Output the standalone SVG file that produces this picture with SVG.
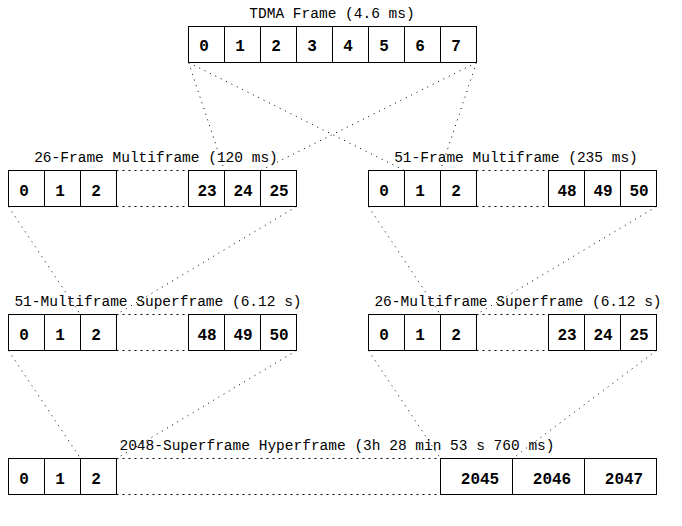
<svg xmlns="http://www.w3.org/2000/svg" width="682" height="526" viewBox="0 0 682 526">
<style>
.bg{fill:#fff}
.cell{fill:#fff;stroke:#000;stroke-width:1}
.gap{stroke:#000;stroke-width:1;stroke-dasharray:2 4;fill:none}
.con{stroke:#000;stroke-width:1;stroke-dasharray:1 5;fill:none}
.title{font-family:"Liberation Mono","Courier New",monospace;font-size:14.5px;fill:#000;text-anchor:middle}
.num{font-family:"Liberation Mono","Courier New",monospace;font-size:16px;font-weight:bold;fill:#000;text-anchor:middle}
</style>
<rect class="bg" x="0" y="0" width="682" height="526"/>

<g id="connectors">
  <line class="con" x1="188.5" y1="62.5" x2="224.5" y2="170.5"/>
  <line class="con" x1="476.5" y1="62.5" x2="260.5" y2="170.5"/>
  <line class="con" x1="188.5" y1="62.5" x2="404.5" y2="170.5"/>
  <line class="con" x1="476.5" y1="62.5" x2="440.5" y2="170.5"/>

  <line class="con" x1="8.5" y1="206.5" x2="80.5" y2="314.5"/>
  <line class="con" x1="296.5" y1="206.5" x2="116.5" y2="314.5"/>
  <line class="con" x1="368.5" y1="206.5" x2="440.5" y2="314.5"/>
  <line class="con" x1="656.5" y1="206.5" x2="476.5" y2="314.5"/>

  <line class="con" x1="8.5" y1="350.5" x2="80.5" y2="458.5"/>
  <line class="con" x1="296.5" y1="350.5" x2="116.5" y2="458.5"/>
  <line class="con" x1="368.5" y1="350.5" x2="440.5" y2="458.5"/>
  <line class="con" x1="656.5" y1="350.5" x2="512.5" y2="458.5"/>
</g>

<g id="tdma-frame">
  <text class="title" x="332" y="18">TDMA Frame (4.6 ms)</text>
  <rect class="cell" x="188.5" y="26.5" width="36" height="36"/>
  <rect class="cell" x="224.5" y="26.5" width="36" height="36"/>
  <rect class="cell" x="260.5" y="26.5" width="36" height="36"/>
  <rect class="cell" x="296.5" y="26.5" width="36" height="36"/>
  <rect class="cell" x="332.5" y="26.5" width="36" height="36"/>
  <rect class="cell" x="368.5" y="26.5" width="36" height="36"/>
  <rect class="cell" x="404.5" y="26.5" width="36" height="36"/>
  <rect class="cell" x="440.5" y="26.5" width="36" height="36"/>
  <text class="num" x="204" y="51">0</text>
  <text class="num" x="240" y="51">1</text>
  <text class="num" x="276" y="51">2</text>
  <text class="num" x="312" y="51">3</text>
  <text class="num" x="348" y="51">4</text>
  <text class="num" x="384" y="51">5</text>
  <text class="num" x="420" y="51">6</text>
  <text class="num" x="456" y="51">7</text>
</g>

<g id="multiframe-26">
  <text class="title" x="156" y="162">26-Frame Multiframe (120 ms)</text>
  <rect class="cell" x="8.5" y="170.5" width="36" height="36"/>
  <rect class="cell" x="44.5" y="170.5" width="36" height="36"/>
  <rect class="cell" x="80.5" y="170.5" width="36" height="36"/>
  <line class="gap" x1="116.5" y1="170.5" x2="188.5" y2="170.5"/>
  <line class="gap" x1="116.5" y1="206.5" x2="188.5" y2="206.5"/>
  <rect class="cell" x="188.5" y="170.5" width="36" height="36"/>
  <rect class="cell" x="224.5" y="170.5" width="36" height="36"/>
  <rect class="cell" x="260.5" y="170.5" width="36" height="36"/>
  <text class="num" x="24" y="196">0</text>
  <text class="num" x="60" y="196">1</text>
  <text class="num" x="96" y="196">2</text>
  <text class="num" x="207" y="196">23</text>
  <text class="num" x="243" y="196">24</text>
  <text class="num" x="279" y="196">25</text>
</g>

<g id="multiframe-51">
  <text class="title" x="516" y="162">51-Frame Multiframe (235 ms)</text>
  <rect class="cell" x="368.5" y="170.5" width="36" height="36"/>
  <rect class="cell" x="404.5" y="170.5" width="36" height="36"/>
  <rect class="cell" x="440.5" y="170.5" width="36" height="36"/>
  <line class="gap" x1="476.5" y1="170.5" x2="548.5" y2="170.5"/>
  <line class="gap" x1="476.5" y1="206.5" x2="548.5" y2="206.5"/>
  <rect class="cell" x="548.5" y="170.5" width="36" height="36"/>
  <rect class="cell" x="584.5" y="170.5" width="36" height="36"/>
  <rect class="cell" x="620.5" y="170.5" width="36" height="36"/>
  <text class="num" x="384" y="196">0</text>
  <text class="num" x="420" y="196">1</text>
  <text class="num" x="456" y="196">2</text>
  <text class="num" x="567" y="196">48</text>
  <text class="num" x="603" y="196">49</text>
  <text class="num" x="639" y="196">50</text>
</g>

<g id="superframe-51">
  <text class="title" x="158" y="306">51-Multiframe Superframe (6.12 s)</text>
  <rect class="cell" x="8.5" y="314.5" width="36" height="36"/>
  <rect class="cell" x="44.5" y="314.5" width="36" height="36"/>
  <rect class="cell" x="80.5" y="314.5" width="36" height="36"/>
  <line class="gap" x1="116.5" y1="314.5" x2="188.5" y2="314.5"/>
  <line class="gap" x1="116.5" y1="350.5" x2="188.5" y2="350.5"/>
  <rect class="cell" x="188.5" y="314.5" width="36" height="36"/>
  <rect class="cell" x="224.5" y="314.5" width="36" height="36"/>
  <rect class="cell" x="260.5" y="314.5" width="36" height="36"/>
  <text class="num" x="24" y="340">0</text>
  <text class="num" x="60" y="340">1</text>
  <text class="num" x="96" y="340">2</text>
  <text class="num" x="207" y="340">48</text>
  <text class="num" x="243" y="340">49</text>
  <text class="num" x="279" y="340">50</text>
</g>

<g id="superframe-26">
  <text class="title" x="518" y="306">26-Multiframe Superframe (6.12 s)</text>
  <rect class="cell" x="368.5" y="314.5" width="36" height="36"/>
  <rect class="cell" x="404.5" y="314.5" width="36" height="36"/>
  <rect class="cell" x="440.5" y="314.5" width="36" height="36"/>
  <line class="gap" x1="476.5" y1="314.5" x2="548.5" y2="314.5"/>
  <line class="gap" x1="476.5" y1="350.5" x2="548.5" y2="350.5"/>
  <rect class="cell" x="548.5" y="314.5" width="36" height="36"/>
  <rect class="cell" x="584.5" y="314.5" width="36" height="36"/>
  <rect class="cell" x="620.5" y="314.5" width="36" height="36"/>
  <text class="num" x="384" y="340">0</text>
  <text class="num" x="420" y="340">1</text>
  <text class="num" x="456" y="340">2</text>
  <text class="num" x="567" y="340">23</text>
  <text class="num" x="603" y="340">24</text>
  <text class="num" x="639" y="340">25</text>
</g>

<g id="hyperframe">
  <text class="title" x="337" y="450">2048-Superframe Hyperframe (3h 28 min 53 s 760 ms)</text>
  <rect class="cell" x="8.5" y="458.5" width="36" height="36"/>
  <rect class="cell" x="44.5" y="458.5" width="36" height="36"/>
  <rect class="cell" x="80.5" y="458.5" width="36" height="36"/>
  <line class="gap" x1="116.5" y1="458.5" x2="440.5" y2="458.5"/>
  <line class="gap" x1="116.5" y1="494.5" x2="440.5" y2="494.5"/>
  <rect class="cell" x="440.5" y="458.5" width="72" height="36"/>
  <rect class="cell" x="512.5" y="458.5" width="72" height="36"/>
  <rect class="cell" x="584.5" y="458.5" width="72" height="36"/>
  <text class="num" x="24" y="484">0</text>
  <text class="num" x="60" y="484">1</text>
  <text class="num" x="96" y="484">2</text>
  <text class="num" x="480" y="484">2045</text>
  <text class="num" x="552" y="484">2046</text>
  <text class="num" x="624" y="484">2047</text>
</g>
</svg>
